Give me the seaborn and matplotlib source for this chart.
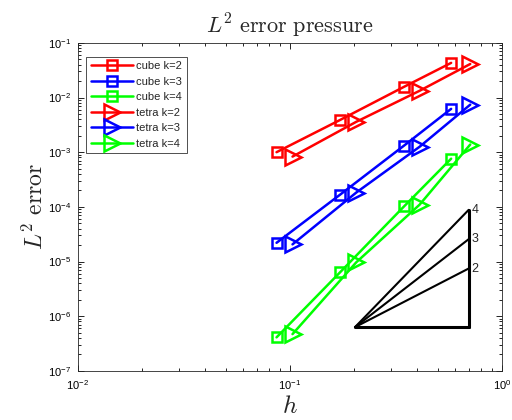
import numpy as np
import pandas as pd
import matplotlib
matplotlib.use("Agg")
import matplotlib.pyplot as plt
import seaborn as sns

# mesh sizes
h_cube = [0.0866, 0.173, 0.346, 0.577]
h_tetra = [0.103, 0.206, 0.41, 0.71]

# L2 pressure errors
err_cube_k2 = [1.0e-3, 3.9e-3, 1.57e-2, 4.3e-2]
err_cube_k3 = [2.2e-5, 1.68e-4, 1.32e-3, 6.2e-3]
err_cube_k4 = [4.1e-7, 6.4e-6, 1.02e-4, 7.6e-4]
err_tetra_k2 = [8.3e-4, 3.6e-3, 1.33e-2, 4.1e-2]
err_tetra_k3 = [2.06e-5, 1.83e-4, 1.26e-3, 7.4e-3]
err_tetra_k4 = [4.7e-7, 9.7e-6, 1.1e-4, 1.38e-3]

# slope triangle
tri_x = [0.203, 0.698]
tri_y0 = 6.3e-7
slopes = [2, 3, 4]

series = [
    ("cube k=2", h_cube, err_cube_k2, "#ff0000", "s"),
    ("cube k=3", h_cube, err_cube_k3, "#0000ff", "s"),
    ("cube k=4", h_cube, err_cube_k4, "#00ff00", "s"),
    ("tetra k=2", h_tetra, err_tetra_k2, "#ff0000", ">"),
    ("tetra k=3", h_tetra, err_tetra_k3, "#0000ff", ">"),
    ("tetra k=4", h_tetra, err_tetra_k4, "#00ff00", ">"),
]

sns.set_style("ticks")
plt.rcParams["font.family"] = ["Liberation Sans", "DejaVu Sans"]
plt.rcParams["mathtext.fontset"] = "cm"

fig = plt.figure(figsize=(5.12, 4.2), dpi=100)
ax = fig.add_axes([0.152, 0.117, 0.828, 0.781])

for name, h, err, color, marker in series:
    df = pd.DataFrame({"h": h, "err": err})
    ms = 7.5 if marker == "s" else 11
    sns.lineplot(data=df, x="h", y="err", ax=ax, color=color, marker=marker,
                 markersize=ms, markerfacecolor="none", markeredgecolor=color,
                 markeredgewidth=1.8, linewidth=1.8, label=name)

# convergence-rate triangle
x0, x1 = tri_x
tops = [tri_y0 * (x1 / x0) ** k for k in slopes]
ax.plot([x0, x1], [tri_y0, tri_y0], color="black", lw=2.2)
ax.plot([x1, x1], [tri_y0, max(tops)], color="black", lw=2.2)
for k, yt in zip(slopes, tops):
    ax.plot([x0, x1], [tri_y0, yt], color="black", lw=1.5)
    ax.text(x1 * 1.03, yt, str(k), fontsize=9, ha="left", va="center")

ax.set_xscale("log")
ax.set_yscale("log")
ax.set_xlim(1e-2, 1)
ax.set_ylim(1e-7, 1e-1)

ax.tick_params(which="both", direction="in", top=True, right=True,
               labelsize=8, width=0.6, colors="black")
ax.tick_params(which="major", length=4, pad=5)
ax.tick_params(which="minor", length=2)
for s in ax.spines.values():
    s.set_linewidth(0.6)

ax.set_title(r"$L^2\ \mathrm{error\ pressure}$", fontsize=16, pad=7)
ax.set_xlabel(r"$h$", fontsize=18, labelpad=2)
ax.set_ylabel(r"$L^2\ \mathrm{error}$", fontsize=17, labelpad=0)

leg = ax.legend(loc="upper left", bbox_to_anchor=(0.015, 0.965), fontsize=8,
                frameon=True, fancybox=False, edgecolor="black",
                handlelength=3.8, borderpad=0.4, labelspacing=0.5,
                handletextpad=0.3, borderaxespad=0.2)
leg.get_frame().set_linewidth(0.6)

fig.savefig("out.png", dpi=100)
